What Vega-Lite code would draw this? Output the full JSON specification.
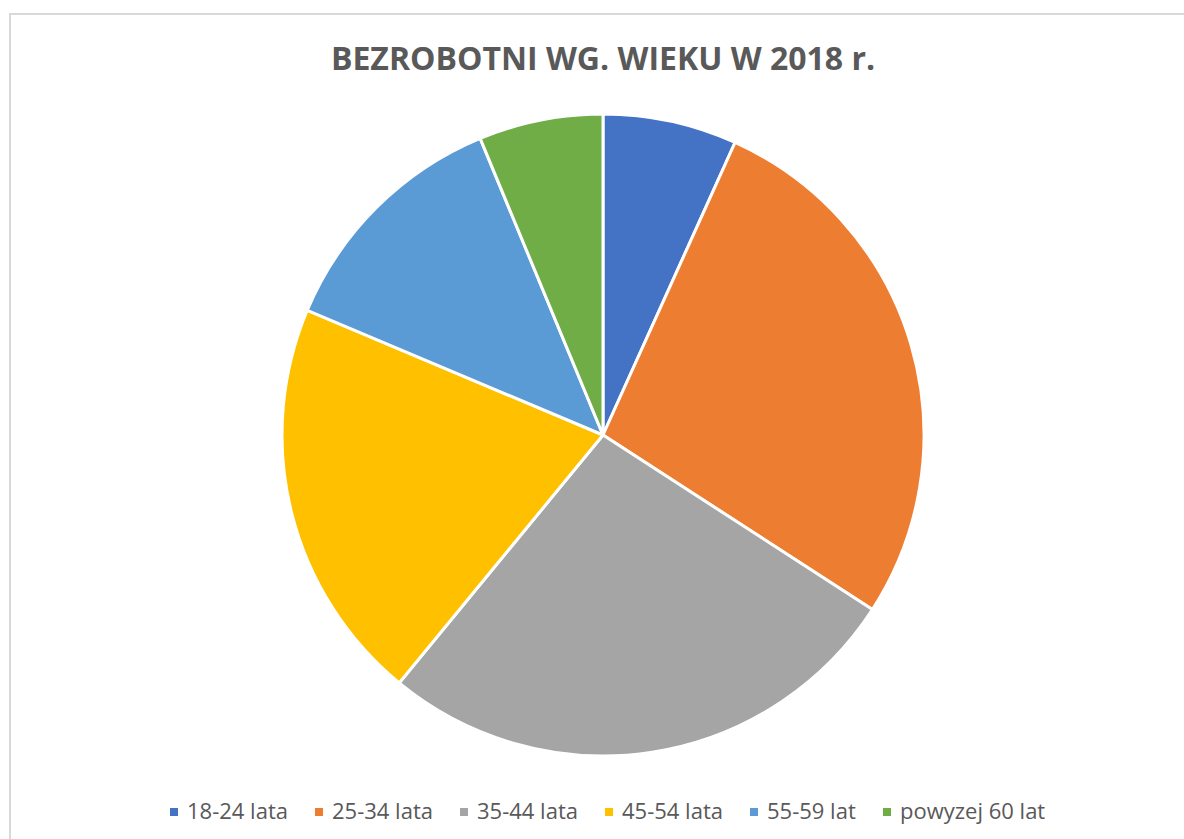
{
  "$schema": "https://vega.github.io/schema/vega-lite/v6.json",
  "autosize": "none",
  "padding": {"left": 10, "top": 14, "right": 0, "bottom": 0},
  "width": 1186,
  "height": 842,
  "background": "white",
  "view": {"stroke": "#D9D9D9", "strokeWidth": 2},
  "title": {
    "text": "BEZROBOTNI WG. WIEKU W 2018 r.",
    "font": "Open Sans",
    "fontSize": 32,
    "fontWeight": "bold",
    "color": "#595959",
    "anchor": "middle",
    "orient": "top",
    "offset": -63
  },
  "data": {
    "values": [
      {"grupa": "18-24 lata", "udzial": 6.75, "kolej": 1},
      {"grupa": "25-34 lata", "udzial": 27.4, "kolej": 2},
      {"grupa": "35-44 lata", "udzial": 26.8, "kolej": 3},
      {"grupa": "45-54 lata", "udzial": 20.4, "kolej": 4},
      {"grupa": "55-59 lat", "udzial": 12.4, "kolej": 5},
      {"grupa": "powyzej 60 lat", "udzial": 6.25, "kolej": 6}
    ]
  },
  "mark": {"type": "arc", "outerRadius": 321, "stroke": "white", "strokeWidth": 3},
  "encoding": {
    "theta": {"field": "udzial", "type": "quantitative", "stack": true},
    "order": {"field": "kolej", "type": "quantitative"},
    "color": {
      "field": "grupa",
      "type": "nominal",
      "sort": ["18-24 lata", "25-34 lata", "35-44 lata", "45-54 lata", "55-59 lat", "powyzej 60 lat"],
      "scale": {
        "domain": ["18-24 lata", "25-34 lata", "35-44 lata", "45-54 lata", "55-59 lat", "powyzej 60 lat"],
        "range": ["#4472C4", "#ED7D31", "#A5A5A5", "#FFC000", "#5B9BD5", "#70AD47"]
      },
      "legend": {
        "title": null,
        "orient": "none",
        "direction": "horizontal",
        "legendX": 153,
        "legendY": 787,
        "padding": 0,
        "symbolType": "square",
        "symbolSize": 64,
        "symbolStrokeWidth": 0,
        "labelFont": "Open Sans",
        "labelFontSize": 22,
        "labelColor": "#595959",
        "labelOffset": 2,
        "columnPadding": 20,
        "labelLimit": 400
      }
    }
  }
}
